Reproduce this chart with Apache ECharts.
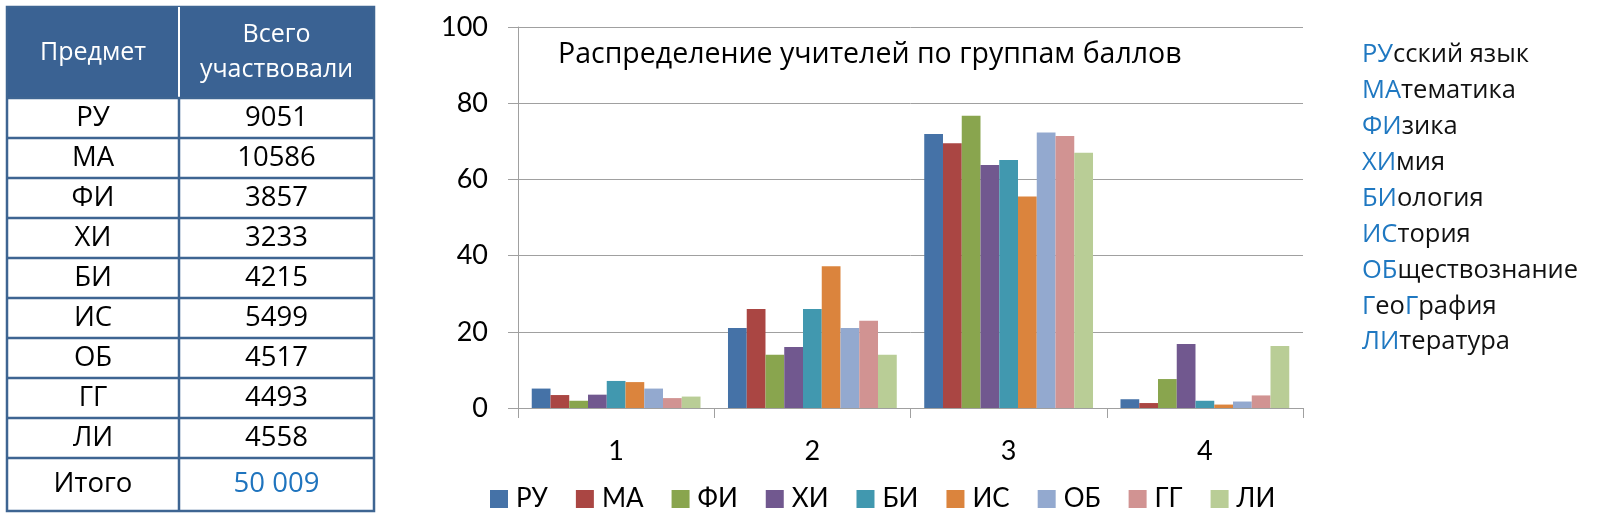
<!DOCTYPE html>
<html><head><meta charset="utf-8">
<script src="https://cdn.jsdelivr.net/npm/echarts@6/dist/echarts.min.js"></script>
<style>html,body{margin:0;padding:0;background:#fff}#c{width:1602px;height:521px}</style>
</head><body><div id="c"></div>
<script>
// ---- data ----
const categories = ['1', '2', '3', '4'];
const seriesNames = ['РУ', 'МА', 'ФИ', 'ХИ', 'БИ', 'ИС', 'ОБ', 'ГГ', 'ЛИ'];
const valRU = [5.1, 21.0, 71.9, 2.3];
const valMA = [3.4, 26.0, 69.5, 1.3];
const valFI = [1.9, 14.0, 76.7, 7.6];
const valHI = [3.5, 16.0, 63.8, 16.8];
const valBI = [7.1, 26.0, 65.1, 1.9];
const valIS = [6.8, 37.2, 55.5, 0.9];
const valOB = [5.1, 21.0, 72.3, 1.7];
const valGG = [2.6, 22.9, 71.4, 3.3];
const valLI = [3.0, 14.0, 67.0, 16.3];
const seriesValues = [valRU, valMA, valFI, valHI, valBI, valIS, valOB, valGG, valLI];
const colors = ['#4572A7', '#AA4643', '#89A54E', '#71588F', '#4198AF', '#DB843D', '#93A9CF', '#D19392', '#B9CD96'];
const yTicks = [0, 20, 40, 60, 80, 100];
const chartTitle = 'Распределение учителей по группам баллов';

const tableHeader = ['Предмет', 'Всего\nучаствовали'];
const tableSubjects = ['РУ', 'МА', 'ФИ', 'ХИ', 'БИ', 'ИС', 'ОБ', 'ГГ', 'ЛИ'];
const tableCounts = ['9051', '10586', '3857', '3233', '4215', '5499', '4517', '4493', '4558'];
const totalLabel = 'Итого';
const totalValue = '50 009';

// subject names: [text, highlighted?] segments
const subjectNames = [
  [['РУ', 1], ['сский язык', 0]],
  [['МА', 1], ['тематика', 0]],
  [['ФИ', 1], ['зика', 0]],
  [['ХИ', 1], ['мия', 0]],
  [['БИ', 1], ['ология', 0]],
  [['ИС', 1], ['тория', 0]],
  [['ОБ', 1], ['ществознание', 0]],
  [['Г', 1], ['ео', 0], ['Г', 1], ['рафия', 0]],
  [['ЛИ', 1], ['тература', 0]]
];

// ---- layout ----
const FONT = 'Lato, "Open Sans", sans-serif';
const OFONT = '"Open Sans", "Noto Sans", sans-serif';
const gray = '#A0A0A0';
const tblBorder = '#3E6592';
const tblHead = '#3A6293';
const x0 = 7, x1 = 179, x2 = 374;
const yHeadTop = 7, yHeadBot = 98, rowH = 40, totalBot = 511;

const graphics = [];
graphics.push({type: 'rect', shape: {x: x0, y: yHeadTop, width: x2 - x0, height: yHeadBot - yHeadTop}, style: {fill: tblHead}, z: 1});
graphics.push({type: 'text', x: (x0 + x1) / 2, y: (yHeadTop + yHeadBot) / 2, style: {text: tableHeader[0], fill: '#fff', font: '25px ' + OFONT, align: 'center', verticalAlign: 'middle'}, z: 3});
graphics.push({type: 'text', x: (x1 + x2) / 2, y: (yHeadTop + yHeadBot) / 2, style: {text: tableHeader[1], fill: '#fff', font: '25px ' + OFONT, align: 'center', verticalAlign: 'middle', lineHeight: 35}, z: 3});
for (let i = 0; i < tableSubjects.length; i++) {
  const yc = yHeadBot + rowH * i + rowH / 2;
  graphics.push({type: 'text', x: (x0 + x1) / 2, y: yc, style: {text: tableSubjects[i], fill: '#000', font: '27.5px ' + OFONT, align: 'center', verticalAlign: 'middle'}, z: 3});
  graphics.push({type: 'text', x: (x1 + x2) / 2, y: yc, style: {text: tableCounts[i], fill: '#000', font: '27.5px ' + OFONT, align: 'center', verticalAlign: 'middle'}, z: 3});
}
const yTotTop = yHeadBot + rowH * tableSubjects.length;
graphics.push({type: 'text', x: (x0 + x1) / 2, y: (yTotTop + totalBot) / 2, style: {text: totalLabel, fill: '#000', font: '27.5px ' + OFONT, align: 'center', verticalAlign: 'middle'}, z: 3});
graphics.push({type: 'text', x: (x1 + x2) / 2, y: (yTotTop + totalBot) / 2, style: {text: totalValue, fill: '#1F74BE', font: '27.5px ' + OFONT, align: 'center', verticalAlign: 'middle'}, z: 3});
// borders
const lw = 2.5;
graphics.push({type: 'rect', shape: {x: x0, y: yHeadTop, width: x2 - x0, height: totalBot - yHeadTop}, style: {fill: null, stroke: tblBorder, lineWidth: lw}, z: 2});
graphics.push({type: 'line', shape: {x1: x1, y1: yHeadTop, x2: x1, y2: yHeadBot}, style: {stroke: '#ffffff', lineWidth: 2}, z: 2});
graphics.push({type: 'line', shape: {x1: x1, y1: yHeadBot, x2: x1, y2: totalBot}, style: {stroke: tblBorder, lineWidth: lw}, z: 2});
for (let i = 0; i <= tableSubjects.length; i++) {
  const y = yHeadBot + rowH * i;
  graphics.push({type: 'line', shape: {x1: x0, y1: y, x2: x2, y2: y}, style: {stroke: tblBorder, lineWidth: lw}, z: 2});
}
// subject names list
for (let i = 0; i < subjectNames.length; i++) {
  let txt = '';
  subjectNames[i].forEach(s => { txt += '{' + (s[1] ? 'b' : 'k') + '|' + s[0] + '}'; });
  graphics.push({type: 'text', x: 1362, y: 55 + i * 35.9, style: {text: txt, verticalAlign: 'middle', align: 'left',
    rich: {b: {fill: '#1F78C1', font: '25.5px ' + OFONT}, k: {fill: '#111', font: '25.5px ' + OFONT}}}, z: 3});
}

const chart = echarts.init(document.getElementById('c'), null, {renderer: 'canvas'});
chart.setOption({
  animation: false,
  color: colors,
  textStyle: {fontFamily: FONT},
  title: {text: chartTitle, left: 553, top: 35, textStyle: {fontFamily: OFONT, fontSize: 28.5, fontWeight: 'normal', color: '#000'}},
  grid: {left: 518, right: 299, top: 27, bottom: 113, containLabel: false},
  legend: {
    data: seriesNames, left: 485, top: 481, icon: 'rect', itemWidth: 18, itemHeight: 18, itemGap: 28,
    textStyle: {fontFamily: FONT, fontSize: 26, color: '#000', padding: [0, 0, 0, 3]}
  },
  xAxis: {
    type: 'category', data: categories,
    axisLine: {lineStyle: {color: gray, width: 1}},
    axisTick: {show: true, length: 10, lineStyle: {color: gray}},
    axisLabel: {fontFamily: FONT, fontSize: 27, color: '#000', margin: 30}
  },
  yAxis: {
    type: 'value', min: 0, max: 100, interval: 20,
    axisLine: {show: true, lineStyle: {color: gray}},
    axisTick: {show: true, length: 10, lineStyle: {color: gray}},
    splitLine: {lineStyle: {color: gray}},
    axisLabel: {fontFamily: FONT, fontSize: 27, color: '#000', margin: 30,
      formatter: v => yTicks.includes(v) ? String(v) : ''}
  },
  series: seriesNames.map((n, i) => ({
    name: n, type: 'bar', data: seriesValues[i], barGap: '0%', barCategoryGap: '14%',
    itemStyle: {color: colors[i]}
  })),
  graphic: graphics
});
</script></body></html>
